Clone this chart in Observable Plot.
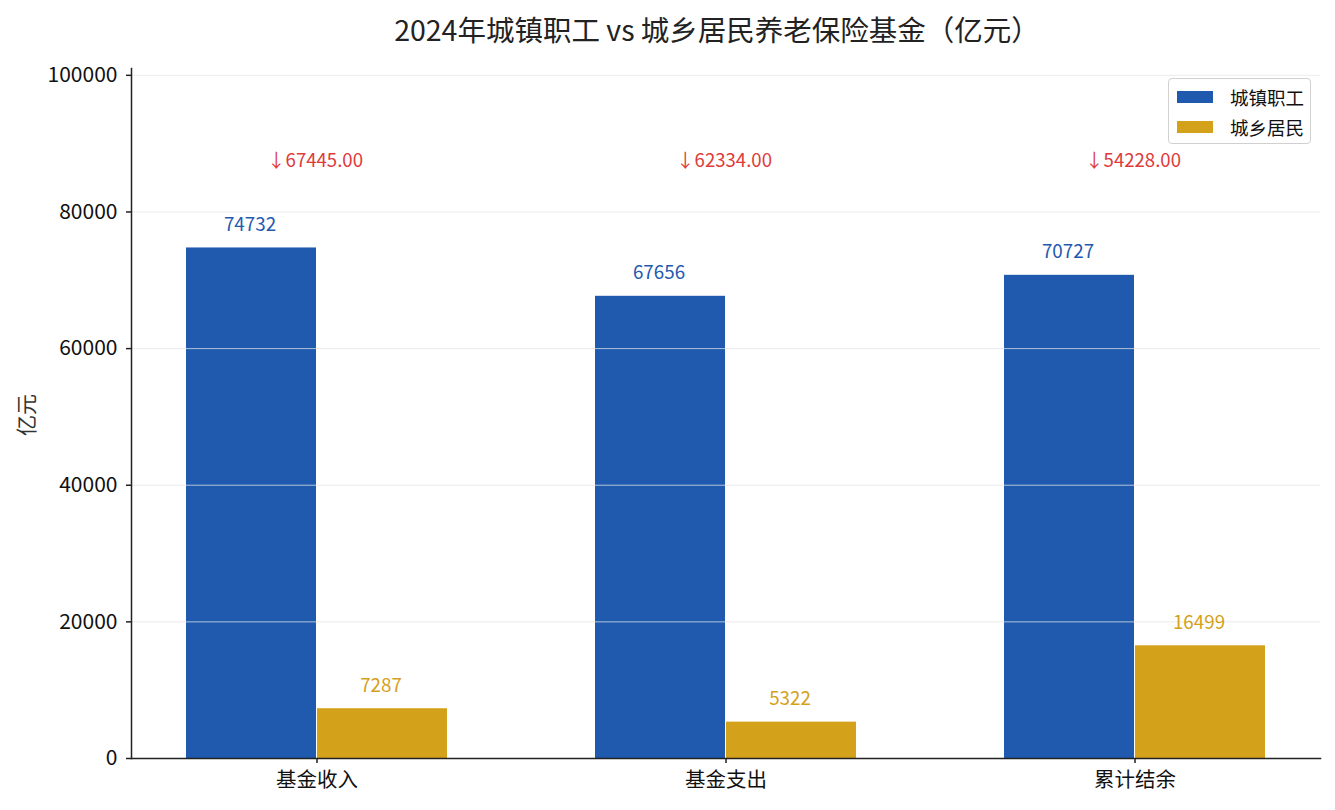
<!DOCTYPE html>
<html>
<head>
<meta charset="utf-8">
<script src="https://cdn.jsdelivr.net/npm/d3@7"></script>
<script src="https://cdn.jsdelivr.net/npm/@observablehq/plot@0.6"></script>
<style>
  html, body { margin: 0; padding: 0; background: #fff; }
  body { width: 1335px; height: 810px; position: relative; overflow: hidden; font-family: "Noto Sans CJK SC", "Noto Sans", sans-serif; }
  #title { position: absolute; left: 717px; top: 28px; transform: translate(-50%, -50%); font-size: 28.5px; color: #222; white-space: nowrap; }
  #chart { position: absolute; left: 0; top: 55px; }
  #ylabel { position: absolute; left: 25px; top: 415px; transform: translate(-50%, -50%) rotate(-90deg); font-size: 21px; color: #333; white-space: nowrap; }
  #legend { position: absolute; left: 1168px; top: 78px; width: 143px; height: 66px; border: 1px solid #d0d0d0; border-radius: 4px; background: rgba(255,255,255,0.85); box-sizing: border-box; }
  .li { position: absolute; left: 8px; height: 22px; display: flex; align-items: center; font-size: 18.5px; color: #111; }
  .sw { width: 36px; height: 12px; margin-right: 17px; }
</style>
</head>
<body>
<div id="title"></div>
<div id="chart"></div>
<div id="ylabel"></div>
<div id="legend"></div>
<script>
const categories = ["基金收入", "基金支出", "累计结余"];
const seriesNames = ["城镇职工", "城乡居民"];
const urbanValues = [74732, 67656, 70727];
const ruralValues = [7287, 5322, 16499];
const seriesColors = ["#1f5aaf", "#d4a11b"];
const diffColor = "#e03a3a";
const yTicks = [0, 20000, 40000, 60000, 80000, 100000];
const titleText = "2024年城镇职工 vs 城乡居民养老保险基金（亿元）";
const yLabelText = "亿元";

const rows = categories.flatMap((c, i) => [
  {cat: c, series: seriesNames[0], value: urbanValues[i]},
  {cat: c, series: seriesNames[1], value: ruralValues[i]}
]);
const diffs = categories.map((c, i) => ({cat: c, diff: urbanValues[i] - ruralValues[i]}));
const annotY = d3.max(urbanValues) * 1.17;

const urbanRows = rows.filter(d => d.series === seriesNames[0]);
const ruralRows = rows.filter(d => d.series === seriesNames[1]);

const font = "Noto Sans CJK SC";

const chart = Plot.plot({
  width: 1335,
  height: 755,
  marginLeft: 131,
  marginRight: 15,
  marginTop: 13,
  marginBottom: 52,
  style: {fontFamily: font, background: "#fff", color: "#111"},
  x: {type: "band", domain: categories, range: [111.5, 1338.5], padding: 0},
  y: {domain: [0, 101000]},
  marks: [
    Plot.barY(urbanRows, {x: "cat", y: "value", fill: seriesColors[0], insetLeft: 74, insetRight: 205}),
    Plot.barY(ruralRows, {x: "cat", y: "value", fill: seriesColors[1], insetLeft: 205, insetRight: 74}),
    Plot.gridY(yTicks.slice(1), {stroke: "#e4e4e4", strokeOpacity: 0.75, strokeWidth: 1}),
    Plot.text(urbanRows, {x: "cat", y: "value", text: d => String(d.value), dx: -67, dy: -23, fill: seriesColors[0], fontSize: 18.8}),
    Plot.text(ruralRows, {x: "cat", y: "value", text: d => String(d.value), dx: 64, dy: -23, fill: seriesColors[1], fontSize: 18.8}),
    Plot.text(diffs, {x: "cat", y: () => annotY, text: d => "↓" + d.diff.toFixed(2), dx: -2, fill: diffColor, fontSize: 18.6}),
    Plot.axisY(yTicks, {tickSize: 5, tickPadding: 9, fontSize: 21, label: null, tickFormat: d3.format("d"), stroke: "#222", strokeWidth: 1.5}),
    Plot.axisX({tickSize: 5, tickPadding: 9, fontSize: 20.5, label: null, stroke: "#222", strokeWidth: 1.5}),
    Plot.frame({anchor: "left", stroke: "#222", strokeWidth: 1.5}),
    Plot.frame({anchor: "bottom", stroke: "#222", strokeWidth: 1.5})
  ]
});
document.getElementById("chart").appendChild(chart);
document.getElementById("title").textContent = titleText;
document.getElementById("ylabel").textContent = yLabelText;

const legend = document.getElementById("legend");
seriesNames.forEach((name, i) => {
  const item = document.createElement("div");
  item.className = "li";
  item.style.top = (7 + i * 30) + "px";
  const sw = document.createElement("div");
  sw.className = "sw";
  sw.style.background = seriesColors[i];
  const lbl = document.createElement("span");
  lbl.textContent = name;
  item.appendChild(sw);
  item.appendChild(lbl);
  legend.appendChild(item);
});
</script>
</body>
</html>
